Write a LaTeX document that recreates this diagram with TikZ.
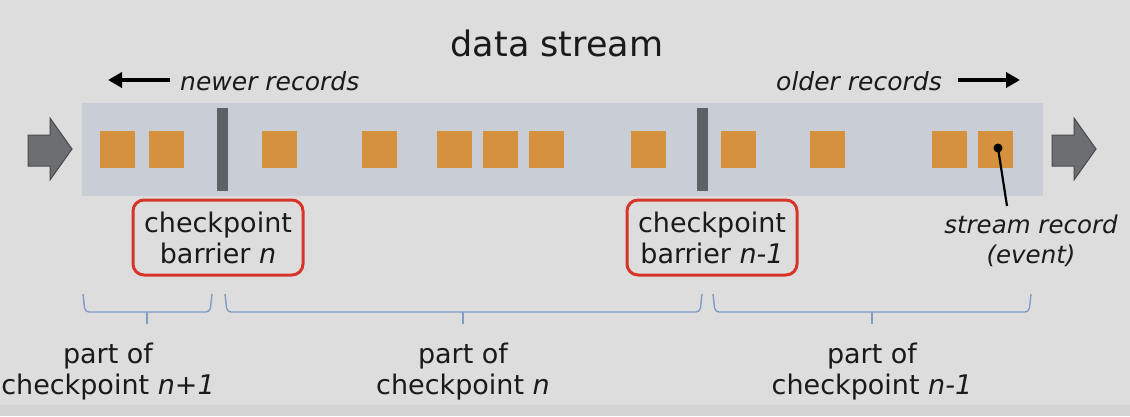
\documentclass[tikz,border=0pt]{standalone}
\usepackage{fontspec}
\setmainfont{DejaVu Sans}
\usetikzlibrary{arrows.meta}
\definecolor{bgc}{HTML}{DDDDDD}
\definecolor{bandc}{HTML}{C9CED6}
\definecolor{orangec}{HTML}{D6913F}
\definecolor{barc}{HTML}{5E6267}
\definecolor{arrc}{HTML}{6C6E72}
\definecolor{arrd}{HTML}{48494C}
\definecolor{redc}{HTML}{D8352A}
\definecolor{bracec}{HTML}{7F9CC4}
\definecolor{txtc}{HTML}{1A1A1A}
\tikzset{
  rec/.style={fill=orangec, draw=none, minimum width=35pt, minimum height=37pt, inner sep=0pt},
  barrier/.style={fill=barc, draw=none, minimum width=11pt, minimum height=83pt, inner sep=0pt},
  cpbox/.style={draw=redc, line width=3pt, rounded corners=11pt, minimum width=170pt, minimum height=75pt, align=center, text=txtc, font=\fontsize{27}{31}\selectfont},
  lbl/.style={align=center, text=txtc, font=\fontsize{27}{31}\selectfont, inner sep=0pt},
  dirlbl/.style={text=txtc, font=\fontsize{25}{29}\selectfont\itshape, inner sep=0pt},
  dirarrow/.style={line width=3.5pt, -{Triangle[length=14pt,width=15pt]}, black},
  blockarrow/.style={fill=arrc, draw=arrd, line width=1pt, line join=miter},
  bracestyle/.style={draw=bracec, line width=1.4pt, rounded corners=4pt},
}
\begin{document}
\begin{tikzpicture}[x=1pt,y=-1pt]
\fill[bgc] (0,0) rectangle (1130,416);
\fill[black!17] (0,405) rectangle (1130,416);
\useasboundingbox (0,0) rectangle (1130,416);

% title
\node[lbl, font=\fontsize{35}{39}\selectfont] (title) at (557,43) {data stream};

% direction labels
\node[dirlbl, anchor=west] (newer) at (180,81) {newer records};
\coordinate (newerA) at (170,80);
\coordinate (newerB) at (108,80);
\draw[dirarrow] (newerA) -- (newerB);
\node[dirlbl, anchor=east] (older) at (942,81) {older records};
\coordinate (olderA) at (958,80);
\coordinate (olderB) at (1020,80);
\draw[dirarrow] (olderA) -- (olderB);

% stream band
\fill[bandc] (82,103) rectangle (1043,196);

% block arrows
\draw[blockarrow] (28,135) -- (50,135) -- (50,118) -- (72,149) -- (50,180) -- (50,166) -- (28,166) -- cycle;
\draw[blockarrow] (1052,135) -- (1074,135) -- (1074,118) -- (1096,149) -- (1074,180) -- (1074,166) -- (1052,166) -- cycle;

% records
\node[rec] (s1) at (117.5,149.5) {};
\node[rec] (s2) at (166.5,149.5) {};
\node[rec] (s3) at (279.5,149.5) {};
\node[rec] (s4) at (379.5,149.5) {};
\node[rec] (s5) at (454.5,149.5) {};
\node[rec] (s6) at (500.5,149.5) {};
\node[rec] (s7) at (546.5,149.5) {};
\node[rec] (s8) at (648.5,149.5) {};
\node[rec] (s9) at (738.5,149.5) {};
\node[rec] (s10) at (827.5,149.5) {};
\node[rec] (s11) at (949.5,149.5) {};
\node[rec] (s12) at (995.5,149.5) {};

% barriers
\node[barrier] (b1) at (222.5,149.5) {};
\node[barrier] (b2) at (702.5,149.5) {};

% checkpoint barrier boxes
\node[cpbox] (cb1) at (218,237.5) {checkpoint\\barrier \textit{n}};
\node[cpbox] (cb2) at (712,237.5) {checkpoint\\barrier \textit{n-1}};

% stream record
\coordinate (dot) at (998,148);
\coordinate (lineend) at (1007,206);
\fill[black] (dot) circle (4.5pt);
\draw[black, line width=2.2pt] (dot) -- (lineend);
\node[lbl, font=\fontsize{24.5}{30}\selectfont\itshape] (sr) at (1031,241) {stream record\\(event)};

% braces
\draw[bracestyle] (83,294) -- (85,312) -- (147,312) -- (210,312) -- (212,294);
\draw[bracestyle, rounded corners=0pt] (147,312) -- (147,324);
\draw[bracestyle] (225,294) -- (227,312) -- (463,312) -- (700,312) -- (702,294);
\draw[bracestyle, rounded corners=0pt] (463,312) -- (463,324);
\draw[bracestyle] (713,294) -- (715,312) -- (872,312) -- (1029,312) -- (1031,294);
\draw[bracestyle, rounded corners=0pt] (872,312) -- (872,324);

% part-of labels
\node[lbl] (p1) at (108,372) {part of\\checkpoint \textit{n+1}};
\node[lbl] (p2) at (463,372) {part of\\checkpoint \textit{n}};
\node[lbl] (p3) at (872,372) {part of\\checkpoint \textit{n-1}};
\end{tikzpicture}
\end{document}
